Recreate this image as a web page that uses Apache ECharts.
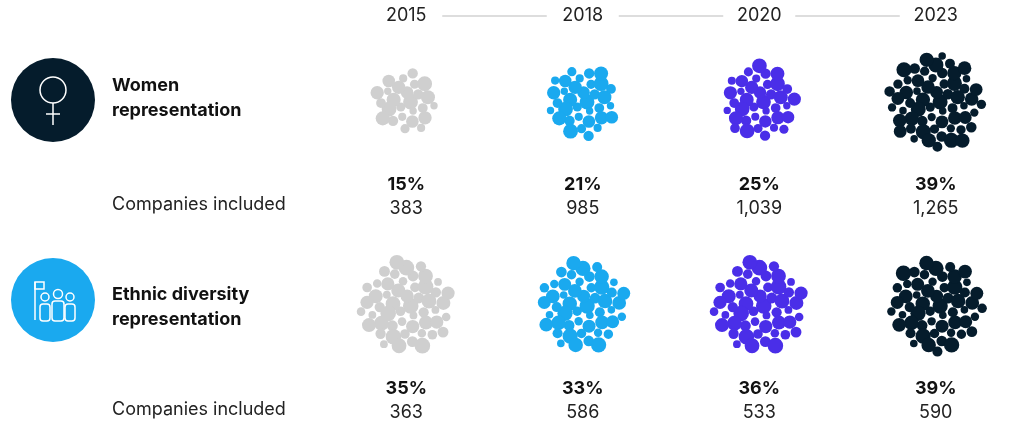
<!DOCTYPE html>
<html><head><meta charset="utf-8">
<script src="https://cdn.jsdelivr.net/npm/echarts@6/dist/echarts.min.js"></script>
<style>html,body{margin:0;background:#fff}#main{width:1024px;height:428px}</style>
</head><body><div id="main"></div>
<script>
var myChart = echarts.init(document.getElementById('main'));

var years = ['2015', '2018', '2020', '2023'];
var rows = ['Women representation', 'Ethnic diversity representation'];
var womenPct = ['15%', '21%', '25%', '39%'];
var womenCompanies = ['383', '985', '1,039', '1,265'];
var ethnicPct = ['35%', '33%', '36%', '39%'];
var ethnicCompanies = ['363', '586', '533', '590'];
// cluster outer radius (px) and number of bubbles
var womenRadius = [35, 40, 42, 54];
var ethnicRadius = [52, 50, 52, 53];
var womenCount = [26, 34, 38, 60];
var ethnicCount = [52, 50, 52, 56];
var colors = ['#cfcfcf', '#1aa9ef', '#4a2ee8', '#051c2c'];

var data = [];
var labels = [];
years.forEach(function (y, i) {
    data.push([i, 0, womenRadius[i], womenCount[i]]);
    labels.push([womenPct[i], womenCompanies[i]]);
    data.push([i, 1, ethnicRadius[i], ethnicCount[i]]);
    labels.push([ethnicPct[i], ethnicCompanies[i]]);
});

var sizeCycle = [1, 0.62, 0.85, 0.5, 0.95, 0.7, 0.55, 0.9, 0.66];
var font = 'Inter, "Noto Sans", sans-serif';

function renderItem(params, api) {
    var xi = api.value(0), yi = api.value(1);
    var c = api.coord([xi, yi]);
    var R = api.value(2), n = api.value(3);
    var lab = labels[params.dataIndex];
    var children = [];
    var cell = R / Math.sqrt(n);
    for (var i = 0; i < n; i++) {
        var rr = R * Math.sqrt((i + 0.5) / n) * 0.88;
        var a = i * 2.39996;
        var s = sizeCycle[i % sizeCycle.length];
        children.push({
            type: 'circle',
            shape: { cx: c[0] + rr * Math.cos(a), cy: c[1] + rr * Math.sin(a), r: cell * s * 1.08 },
            style: { fill: colors[xi] }
        });
    }
    children.push({ type: 'text', style: { text: lab[0], x: c[0], y: c[1] + 83, align: 'center', verticalAlign: 'middle', font: 'bold 18px ' + font, fill: '#111' } });
    children.push({ type: 'text', style: { text: lab[1], x: c[0], y: c[1] + 107, align: 'center', verticalAlign: 'middle', font: '18px ' + font, fill: '#222' } });
    if (yi === 0) {
        children.push({ type: 'text', style: { text: years[xi], x: c[0], y: c[1] - 86, align: 'center', verticalAlign: 'middle', font: '18px ' + font, fill: '#222' } });
        if (xi < years.length - 1) {
            var nx = api.coord([xi + 1, yi])[0];
            children.push({ type: 'line', shape: { x1: c[0] + 36, y1: c[1] - 86, x2: nx - 36, y2: c[1] - 86 }, style: { stroke: '#bbb', lineWidth: 1 } });
        }
    }
    return { type: 'group', children: children };
}

var option = {
    animation: false,
    grid: { left: 318, width: 732, top: -2, height: 410 },
    xAxis: { type: 'category', data: years, show: false },
    yAxis: { type: 'category', data: rows, inverse: true, show: false },
    graphic: [
        // women icon
        { type: 'circle', shape: { cx: 53, cy: 100, r: 42 }, style: { fill: '#051c2c' } },
        { type: 'circle', shape: { cx: 53, cy: 90, r: 13 }, style: { fill: 'none', stroke: '#fff', lineWidth: 1.5 } },
        { type: 'line', shape: { x1: 53, y1: 103, x2: 53, y2: 125 }, style: { stroke: '#fff', lineWidth: 1.5 } },
        { type: 'line', shape: { x1: 46, y1: 114, x2: 60, y2: 114 }, style: { stroke: '#fff', lineWidth: 1.5 } },
        // ethnic icon
        { type: 'circle', shape: { cx: 53, cy: 300, r: 42 }, style: { fill: '#1aa9ef' } },
        { type: 'line', shape: { x1: 35, y1: 282, x2: 35, y2: 320 }, style: { stroke: '#fff', lineWidth: 1.5 } },
        { type: 'rect', shape: { x: 35, y: 282, width: 9, height: 7 }, style: { fill: 'none', stroke: '#fff', lineWidth: 1.5 } },
        { type: 'circle', shape: { cx: 45, cy: 297, r: 4 }, style: { fill: 'none', stroke: '#fff', lineWidth: 1.5 } },
        { type: 'circle', shape: { cx: 58, cy: 294, r: 4.5 }, style: { fill: 'none', stroke: '#fff', lineWidth: 1.5 } },
        { type: 'circle', shape: { cx: 70, cy: 297, r: 4 }, style: { fill: 'none', stroke: '#fff', lineWidth: 1.5 } },
        { type: 'rect', shape: { x: 40, y: 304, width: 10, height: 17, r: 3 }, style: { fill: 'none', stroke: '#fff', lineWidth: 1.5 } },
        { type: 'rect', shape: { x: 52, y: 301, width: 12, height: 20, r: 3 }, style: { fill: 'none', stroke: '#fff', lineWidth: 1.5 } },
        { type: 'rect', shape: { x: 65, y: 304, width: 10, height: 17, r: 3 }, style: { fill: 'none', stroke: '#fff', lineWidth: 1.5 } },
        // labels
        { type: 'text', left: 112, top: 73, style: { text: 'Women\nrepresentation', font: 'bold 18px ' + font, lineHeight: 25, fill: '#111' } },
        { type: 'text', left: 112, top: 282, style: { text: 'Ethnic diversity\nrepresentation', font: 'bold 18px ' + font, lineHeight: 25, fill: '#111' } },
        { type: 'text', left: 112, top: 196, style: { text: 'Companies included', font: '18px ' + font, fill: '#222' } },
        { type: 'text', left: 112, top: 401, style: { text: 'Companies included', font: '18px ' + font, fill: '#222' } }
    ],
    series: [{ type: 'custom', renderItem: renderItem, data: data, clip: false }]
};
myChart.setOption(option);
</script>
</body></html>
